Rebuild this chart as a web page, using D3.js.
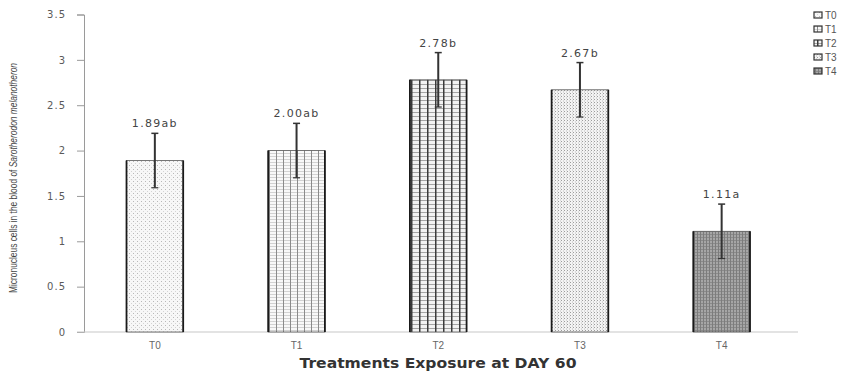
<!DOCTYPE html>
<html>
<head>
<meta charset="utf-8">
<script src="https://cdn.jsdelivr.net/npm/d3@7"></script>
<style>
  html, body { margin: 0; padding: 0; background: #fff; }
  svg { display: block; }
</style>
</head>
<body>
<svg id="chart" width="848" height="373"></svg>
<script>
// Micronucleus counts per treatment, day 60
const treatments = ["T0", "T1", "T2", "T3", "T4"];
const means = [1.89, 2.00, 2.78, 2.67, 1.11];
const errors = [0.3, 0.3, 0.3, 0.3, 0.3];
const letters = ["ab", "ab", "b", "b", "a"];
const yTicks = [0, 0.5, 1, 1.5, 2, 2.5, 3, 3.5];

const svg = d3.select("#chart");
const margin = { left: 84, right: 56, top: 15, bottom: 41 };
const W = 848, H = 373;

const x = d3.scaleBand()
  .domain(treatments)
  .range([margin.left, 792.5])
  .paddingInner(0.6)
  .paddingOuter(0.3);

const y = d3.scaleLinear()
  .domain([0, 3.5])
  .range([332, 14.5]);

// Hatch / dot fills for each treatment
const defs = svg.append("defs");

function pat(id, w, h, build) {
  const p = defs.append("pattern")
    .attr("id", id)
    .attr("patternUnits", "userSpaceOnUse")
    .attr("width", w).attr("height", h);
  build(p);
}

pat("pT0", 4, 4, p => {
  p.append("rect").attr("width", 4).attr("height", 4).attr("fill", "#f7f7f7");
  p.append("rect").attr("x", 1).attr("y", 1).attr("width", 1).attr("height", 1).attr("fill", "#b8b8b8");
  p.append("rect").attr("x", 3).attr("y", 3).attr("width", 1).attr("height", 1).attr("fill", "#d4d4d4");
});
pat("pT1", 7, 3, p => {
  p.append("rect").attr("width", 7).attr("height", 3).attr("fill", "#f8f8f8");
  p.append("rect").attr("x", 0).attr("y", 0).attr("width", 7).attr("height", 1).attr("fill", "#d2d2d2");
  p.append("rect").attr("x", 3).attr("y", 0).attr("width", 1).attr("height", 3).attr("fill", "#8a8a8a");
});
pat("pT2", 8, 4, p => {
  p.append("rect").attr("width", 8).attr("height", 4).attr("fill", "#f2f2f2");
  p.append("rect").attr("x", 0).attr("y", 0).attr("width", 8).attr("height", 1).attr("fill", "#a4a4a4");
  p.append("rect").attr("x", 3).attr("y", 0).attr("width", 1.5).attr("height", 4).attr("fill", "#3a3a3a");
});
pat("pT3", 3, 3, p => {
  p.append("rect").attr("width", 3).attr("height", 3).attr("fill", "#f3f3f3");
  p.append("rect").attr("x", 0).attr("y", 0).attr("width", 1).attr("height", 1).attr("fill", "#9c9c9c");
  p.append("rect").attr("x", 2).attr("y", 1.5).attr("width", 1).attr("height", 1).attr("fill", "#c0c0c0");
});
pat("pT4", 3, 3, p => {
  p.append("rect").attr("width", 3).attr("height", 3).attr("fill", "#a6a6a6");
  p.append("rect").attr("x", 0).attr("y", 0).attr("width", 3).attr("height", 1).attr("fill", "#8a8a8a");
  p.append("rect").attr("x", 1).attr("y", 0).attr("width", 1).attr("height", 3).attr("fill", "#7c7c7c");
});

// Y axis
const yAxis = d3.axisLeft(y)
  .tickValues(yTicks)
  .tickSize(7)
  .tickPadding(11)
  .tickFormat(d3.format("~g"));
const gy = svg.append("g").attr("transform", `translate(${margin.left},0)`).call(yAxis);
gy.select(".domain").attr("stroke", "#9a9a9a").attr("stroke-width", 1);
gy.selectAll(".tick line").attr("stroke", "#9a9a9a");
gy.selectAll(".tick text")
  .attr("font-family", "DejaVu Sans, Verdana, sans-serif")
  .attr("font-size", 10)
  .attr("letter-spacing", "1px")
  .attr("fill", "#5a5a5a");

// X axis
const xAxis = d3.axisBottom(x).tickSize(0).tickPadding(10);
const gx = svg.append("g").attr("transform", `translate(0,${y(0)})`).call(xAxis);
gx.select(".domain").attr("stroke", "#c8c8c8").attr("stroke-width", 1.2)
  .attr("d", `M${margin.left - 7},0H${W - 50}`);
gx.selectAll(".tick text")
  .attr("font-family", "Liberation Sans, Arial, sans-serif")
  .attr("font-size", 10)
  .attr("fill", "#666");

// Bars
const bars = svg.append("g");
treatments.forEach((t, i) => {
  const bx = x(t), bw = x.bandwidth(), top = y(means[i]);
  bars.append("rect")
    .attr("x", bx).attr("y", top)
    .attr("width", bw).attr("height", y(0) - top)
    .attr("fill", `url(#p${t})`)
    .attr("stroke", "#555").attr("stroke-width", 0.8);
  // heavier side edges
  [bx, bx + bw].forEach(ex => {
    bars.append("line")
      .attr("x1", ex).attr("x2", ex)
      .attr("y1", top).attr("y2", y(0))
      .attr("stroke", "#1a1a1a").attr("stroke-width", 1.8);
  });
});

// Error bars
const eb = svg.append("g").attr("stroke", "#333").attr("stroke-width", 2);
treatments.forEach((t, i) => {
  const cx = x(t) + x.bandwidth() / 2;
  const hi = y(means[i] + errors[i]), lo = y(means[i] - errors[i]);
  eb.append("line").attr("x1", cx).attr("x2", cx).attr("y1", hi).attr("y2", lo);
  eb.append("line").attr("x1", cx - 3.5).attr("x2", cx + 3.5).attr("y1", hi).attr("y2", hi).attr("stroke-width", 1.5);
  eb.append("line").attr("x1", cx - 3.5).attr("x2", cx + 3.5).attr("y1", lo).attr("y2", lo).attr("stroke-width", 1.2);
});

// Value labels with significance letters
svg.append("g").selectAll("text")
  .data(treatments)
  .join("text")
  .attr("x", t => x(t) + x.bandwidth() / 2)
  .attr("y", (t, i) => y(means[i] + errors[i]) - 6)
  .attr("text-anchor", "middle")
  .attr("font-family", "DejaVu Sans, Verdana, sans-serif")
  .attr("font-size", 11)
  .attr("letter-spacing", "1.3px")
  .attr("fill", "#444")
  .text((t, i) => d3.format(".2f")(means[i]) + letters[i]);

// Axis titles
svg.append("text")
  .attr("x", 438).attr("y", 368)
  .attr("text-anchor", "middle")
  .attr("font-family", "DejaVu Sans, Verdana, sans-serif")
  .attr("font-weight", "bold")
  .attr("font-size", 13.5)
  .attr("fill", "#333")
  .attr("textLength", 277)
  .attr("lengthAdjust", "spacingAndGlyphs")
  .text("Treatments Exposure at DAY 60");

const yt = svg.append("text")
  .attr("transform", "translate(17,178) rotate(-90)")
  .attr("text-anchor", "middle")
  .attr("font-family", "Liberation Sans, Arial, sans-serif")
  .attr("font-size", 10.5)
  .attr("fill", "#444")
  .attr("textLength", 230)
  .attr("lengthAdjust", "spacingAndGlyphs");
yt.append("tspan").text("Micronucleus cells in the blood of ");
yt.append("tspan").attr("font-style", "italic").text("Sarotherodon melanotheron");

// Legend
const lg = svg.append("g").attr("transform", "translate(814,15)");
treatments.forEach((t, i) => {
  const row = lg.append("g").attr("transform", `translate(0,${i * 14})`);
  row.append("rect")
    .attr("x", 0).attr("y", -3).attr("width", 8).attr("height", 6)
    .attr("fill", `url(#p${t})`)
    .attr("stroke", "#333").attr("stroke-width", 1.2);
  row.append("text")
    .attr("x", 11).attr("y", 0).attr("dy", "0.35em")
    .attr("font-family", "Liberation Sans, Arial, sans-serif")
    .attr("font-size", 10)
    .attr("fill", "#555")
    .text(t);
});
</script>
</body>
</html>
